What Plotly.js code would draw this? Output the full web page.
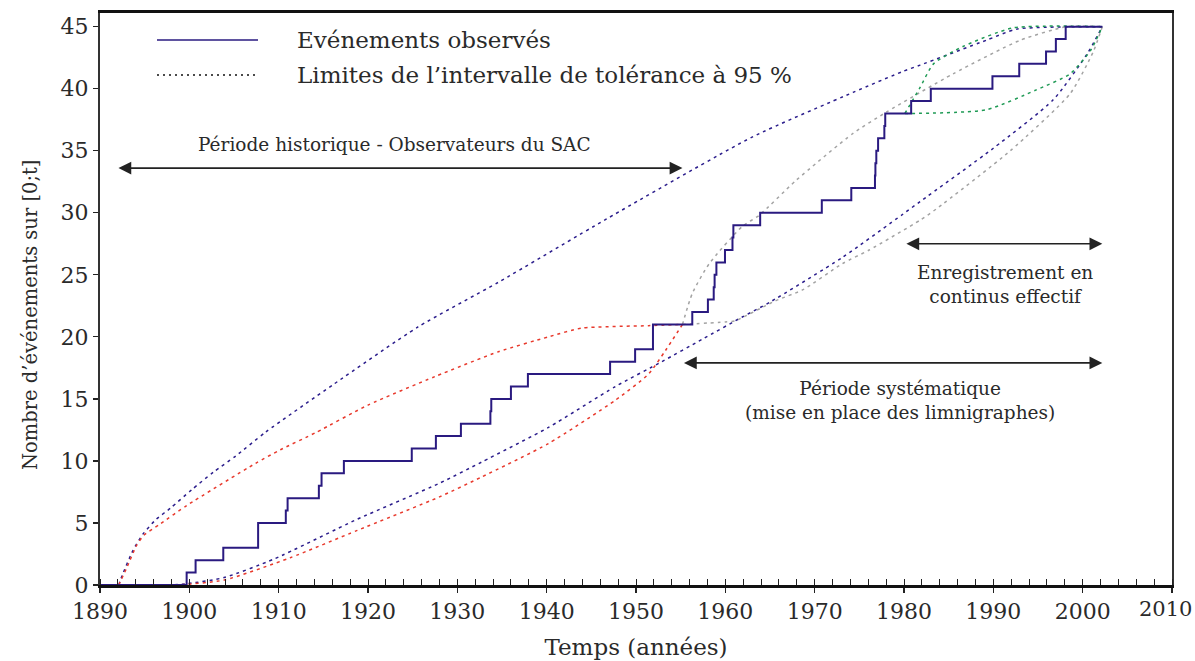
<!DOCTYPE html>
<html><head><meta charset="utf-8">
<script src="https://cdn.plot.ly/plotly-3.0.1.min.js"></script>
<style>body{margin:0;background:#fff}#chart{width:1195px;height:661px}</style>
</head><body><div id="chart"></div>
<script>
// Observed events: step times and cumulative counts
const eventYears = [1890, 1899.7, 1900.7, 1903.8, 1907.7, 1910.8, 1911.0, 1914.5, 1914.8, 1917.3, 1924.9, 1927.6, 1930.4, 1933.7, 1933.8, 1936.0, 1937.9, 1947.1, 1949.9, 1951.9, 1956.3, 1958.05, 1958.7, 1958.8, 1959.0, 1959.96, 1960.8, 1960.9, 1963.9, 1970.8, 1974.1, 1976.75, 1976.8, 1976.9, 1977.1, 1977.8, 1977.9, 1980.8, 1983.0, 1989.9, 1992.9, 1995.9, 1997.0, 1998.1, 2002.2];
const eventCounts = [0, 1, 2, 3, 5, 6, 7, 8, 9, 10, 11, 12, 13, 14, 15, 16, 17, 18, 19, 21, 22, 23, 24, 25, 26, 27, 28, 29, 30, 31, 32, 33, 34, 35, 36, 37, 38, 39, 40, 41, 42, 43, 44, 45, 45];

// Tolerance limits, full period (blue)
const blueUpX = [1892.1, 1892.5, 1893.7, 1894.8, 1896.3, 1897.9, 1900.3, 1902.7, 1905.2, 1908.5, 1916.2, 1925.6, 1934.6, 1946.7, 1963.0, 1974.3, 1979.9, 1981.8, 1989.2, 1992.6, 2002.2];
const blueUpY = [0, 0.8, 2.8, 4.1, 5.3, 6.2, 7.7, 9.1, 10.4, 12.3, 16.2, 20.8, 24.4, 29.5, 36.1, 39.7, 41.4, 41.9, 43.9, 44.8, 45];
const blueLoX = [1892.1, 1898.0, 1899.7, 1903.9, 1909.5, 1918.8, 1928.0, 1932.7, 1940.2, 1947.7, 1952.9, 1957.4, 1961.9, 1965.0, 1973.1, 1979.9, 1981.8, 1990.0, 1996.7, 2000.5, 2002.2];
const blueLoY = [0, 0, 0.1, 0.6, 2.1, 5.3, 8.2, 9.9, 12.7, 16.0, 18.0, 19.8, 21.6, 22.8, 26.4, 29.9, 30.9, 35.2, 39.1, 42.8, 45];

// Tolerance limits, historical period (red)
const redUpX = [1892.1, 1893.0, 1894.1, 1894.9, 1896.7, 1899.7, 1907.4, 1910.2, 1914.2, 1920.0, 1927.5, 1934.6, 1940.2, 1943.9, 1951.4, 1955.2];
const redUpY = [0, 1.4, 3.2, 4.0, 4.9, 6.4, 9.8, 10.9, 12.3, 14.5, 16.8, 18.8, 20.0, 20.7, 20.9, 21.0];
const redLoX = [1892.1, 1898.5, 1903.9, 1911.3, 1918.8, 1928.0, 1932.7, 1940.2, 1947.7, 1951.4, 1953.3, 1955.2];
const redLoY = [0, 0, 0.4, 2.2, 4.4, 7.1, 8.7, 11.4, 14.9, 17.0, 18.9, 21.0];

// Tolerance limits from 1955 (grey)
const greyUpX = [1955.2, 1956.3, 1958.2, 1961.9, 1963.8, 1967.9, 1974.3, 1978.0, 1985.5, 1993.0, 1998.2, 2002.2];
const greyUpY = [21.0, 23.5, 25.9, 28.9, 29.8, 32.6, 36.4, 38.1, 41.2, 43.9, 45.0, 45.0];
const greyLoX = [1955.2, 1960.0, 1961.1, 1965.6, 1968.7, 1973.1, 1976.1, 1981.8, 1983.6, 1991.9, 1998.6, 2001.2, 2002.2];
const greyLoY = [21.0, 21.2, 21.3, 22.9, 23.8, 25.9, 27.0, 29.4, 30.3, 35.0, 39.6, 43.0, 45];

// Tolerance limits from 1980 (green)
const greenUpX = [1980.1, 1981.8, 1983.3, 1986.6, 1992.2, 2002.2];
const greenUpY = [38.0, 40.1, 42.0, 43.4, 44.9, 45];
const greenLoX = [1980.1, 1989.2, 1994.8, 1998.6, 2000.9, 2002.2];
const greenLoY = [38.0, 38.3, 39.9, 41.2, 43.1, 45];

const xTicks = [1890, 1900, 1910, 1920, 1930, 1940, 1950, 1960, 1970, 1980, 1990, 2000, 2010];
const yTicks = [0, 5, 10, 15, 20, 25, 30, 35, 40, 45];

const legendLabels = ['Evénements observés', 'Limites de l\u2019intervalle de tolérance à 95 %'];
const yTitle = 'Nombre d\u2019événements sur [0;t]';
const xTitle = 'Temps (années)';
const periods = [
  {label: 'Période historique - Observateurs du SAC', from: 1891.9, to: 1955.2, y: 33.6, tx: 1923.0, ty: 35.5},
  {label: 'Enregistrement en<br>continus effectif', from: 1980.1, to: 2002.2, y: 27.5, tx: 1991.3, ty: 24.2},
  {label: 'Période systématique<br>(mise en place des limnigraphes)', from: 1955.2, to: 2002.2, y: 17.9, tx: 1979.6, ty: 14.9}
];

const FONT = 'DejaVu Serif, Liberation Serif, serif';
const TXT = '#2a2a2a';
const dash = '3px,4px';
function dashed(x, y, color) {
  return {x: x, y: y, type: 'scatter', mode: 'lines', line: {color: color, width: 1.5, dash: dash, shape: 'spline', smoothing: 0.6}, hoverinfo: 'skip', showlegend: false};
}
const traces = [
  dashed(blueUpX, blueUpY, '#2b1d8c'),
  dashed(blueLoX, blueLoY, '#2b1d8c'),
  dashed(redUpX, redUpY, '#e8392c'),
  dashed(redLoX, redLoY, '#e8392c'),
  dashed(greyUpX, greyUpY, '#a3a3a3'),
  dashed(greyLoX, greyLoY, '#a3a3a3'),
  dashed(greenUpX, greenUpY, '#1f9a55'),
  dashed(greenLoX, greenLoY, '#1f9a55'),
  {x: eventYears, y: eventCounts, type: 'scatter', mode: 'lines', line: {color: '#2a1a80', width: 2, shape: 'hv'}, showlegend: false}
];

const annotations = [];
periods.forEach(p => {
  annotations.push({x: p.to, y: p.y, ax: p.from, ay: p.y, axref: 'x', ayref: 'y', xref: 'x', yref: 'y', text: '', showarrow: true, arrowside: 'end+start', arrowhead: 2, arrowsize: 1.6, arrowwidth: 1.6, arrowcolor: '#222', standoff: 0, startstandoff: 0});
  annotations.push({x: p.tx, y: p.ty, xref: 'x', yref: 'y', text: p.label, showarrow: false, font: {family: FONT, size: 18.5, color: TXT}, align: 'center'});
});

const L = 100, R = 23, T = 13, B = 76, W = 1195, H = 661;
const pw = W - L - R, ph = H - T - B;
function px(xp) { return (xp - L) / pw; }
function py(yp) { return 1 - (yp - T) / ph; }

// legend drawn as text + shapes
annotations.push({x: px(295), y: py(40), xref: 'paper', yref: 'paper', text: legendLabels[0], showarrow: false, xanchor: 'left', yanchor: 'middle', font: {family: FONT, size: 23, color: TXT}});
annotations.push({x: px(295), y: py(75), xref: 'paper', yref: 'paper', text: legendLabels[1], showarrow: false, xanchor: 'left', yanchor: 'middle', font: {family: FONT, size: 23, color: TXT}});
// y-axis title (placed as in the reference, slightly below the plot centre)
annotations.push({x: px(30), y: py(315), xref: 'paper', yref: 'paper', text: yTitle, textangle: -90, showarrow: false, xanchor: 'center', yanchor: 'middle', font: {family: FONT, size: 19.5, color: TXT}});
// last x tick label kept inside the page edge
const lastTick = xTicks[xTicks.length - 1];
annotations.push({x: lastTick, y: py(609), xref: 'x', yref: 'paper', text: String(lastTick), showarrow: false, xanchor: 'right', yanchor: 'middle', xshift: 22, font: {family: FONT, size: 21, color: TXT}});

const shapes = [
  {type: 'line', xref: 'paper', yref: 'paper', x0: px(157), x1: px(258), y0: py(40), y1: py(40), line: {color: '#2a1a80', width: 1.5}},
  {type: 'line', xref: 'paper', yref: 'paper', x0: px(157), x1: px(258), y0: py(75), y1: py(75), line: {color: '#111', width: 1.5, dash: '2px,4px'}}
];

const layout = {
  width: W, height: H,
  margin: {l: L, r: R, t: T, b: B},
  paper_bgcolor: '#fff', plot_bgcolor: '#fff',
  showlegend: false,
  font: {family: FONT, color: TXT},
  xaxis: {
    range: [1890, 2010], tickvals: xTicks, ticktext: xTicks.map((v, i) => i === xTicks.length - 1 ? '' : String(v)),
    ticks: 'outside', ticklen: 5, tickwidth: 1.3, tickcolor: '#222',
    minor: {dtick: 2, tick0: 1890, ticks: 'inside', ticklen: 6, tickwidth: 1, tickcolor: '#222', showgrid: false},
    showgrid: false, zeroline: false, showline: true, linecolor: '#111', linewidth: 3, mirror: true,
    tickfont: {family: FONT, size: 22, color: TXT},
    title: {text: xTitle, font: {family: FONT, size: 23, color: TXT}, standoff: 16}
  },
  yaxis: {
    range: [0, 46.1], tickvals: yTicks, ticktext: yTicks.map(String),
    ticks: 'outside', ticklen: 5, tickwidth: 1.3, tickcolor: '#222',
    showgrid: false, zeroline: false, showline: true, linecolor: '#333', linewidth: 2, mirror: true,
    tickfont: {family: FONT, size: 22, color: TXT}
  },
  annotations: annotations,
  shapes: shapes
};

Plotly.newPlot('chart', traces, layout, {displayModeBar: false, staticPlot: true});
</script>
</body></html>
